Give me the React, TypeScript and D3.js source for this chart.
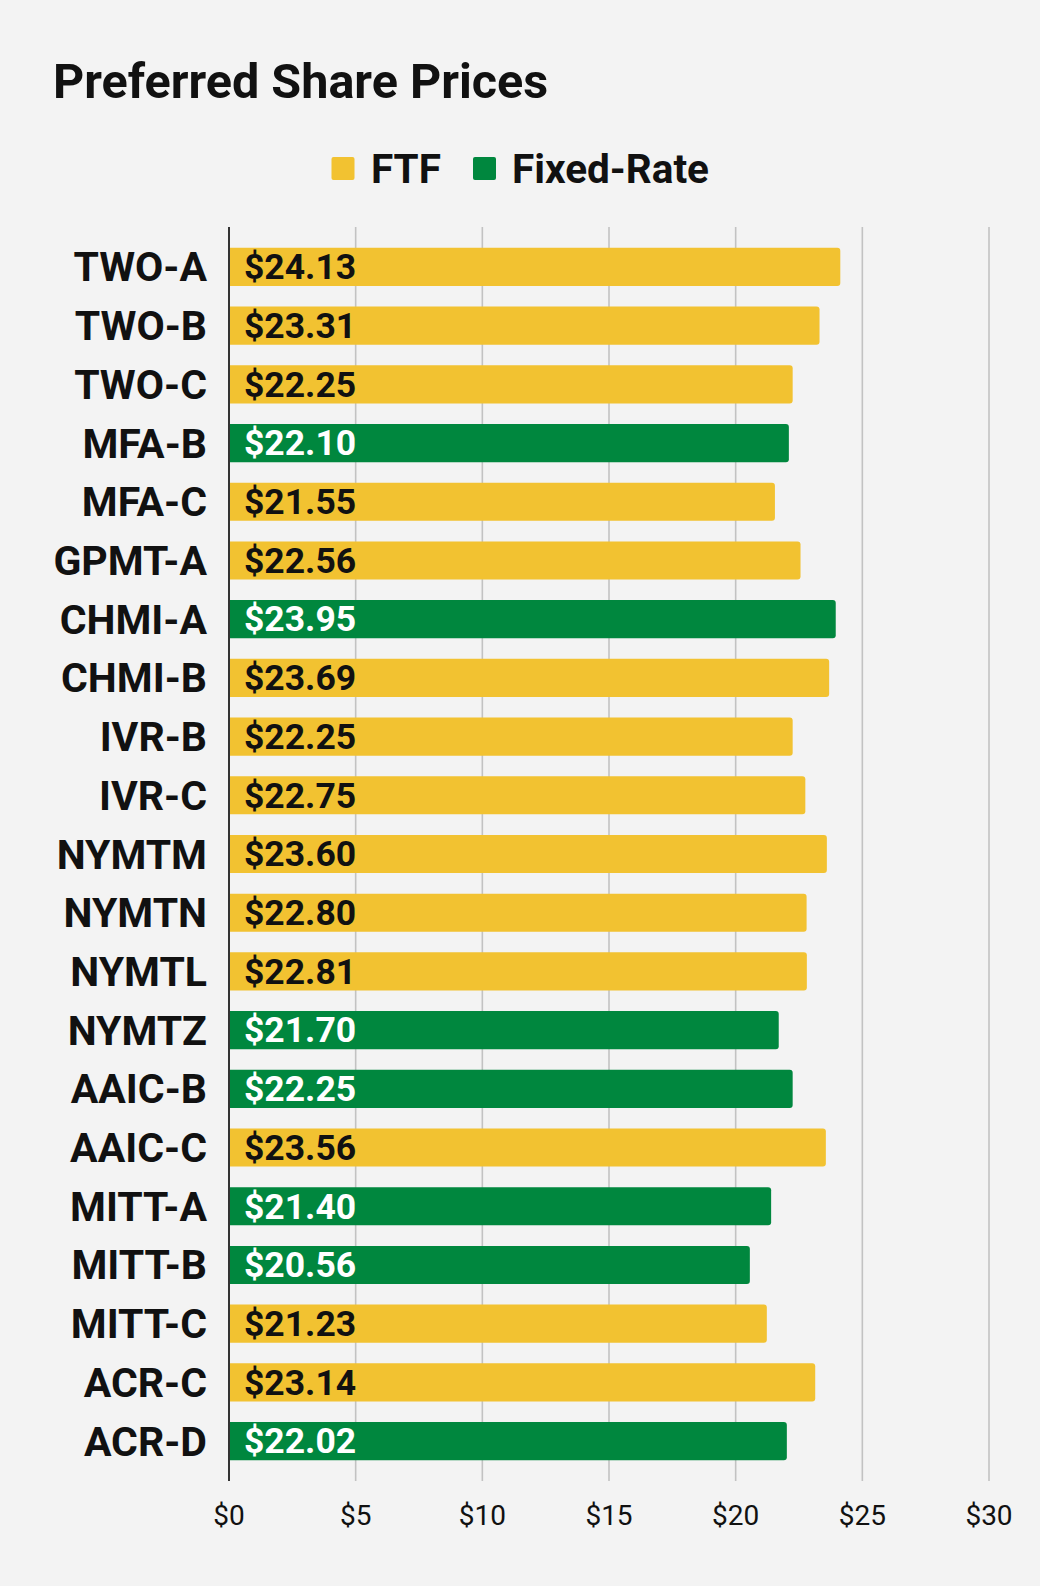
import React from "react";
import * as d3 from "d3";

const categories = ["TWO-A","TWO-B","TWO-C","MFA-B","MFA-C","GPMT-A","CHMI-A","CHMI-B","IVR-B","IVR-C","NYMTM","NYMTN","NYMTL","NYMTZ","AAIC-B","AAIC-C","MITT-A","MITT-B","MITT-C","ACR-C","ACR-D"];
const prices = [24.13,23.31,22.25,22.10,21.55,22.56,23.95,23.69,22.25,22.75,23.60,22.80,22.81,21.70,22.25,23.56,21.40,20.56,21.23,23.14,22.02];
const rateTypes = ["FTF","FTF","FTF","Fixed-Rate","FTF","FTF","Fixed-Rate","FTF","FTF","FTF","FTF","FTF","FTF","Fixed-Rate","Fixed-Rate","FTF","Fixed-Rate","Fixed-Rate","FTF","FTF","Fixed-Rate"];
const seriesNames = ["FTF","Fixed-Rate"];
const xTicks = [0,5,10,15,20,25,30];
const title = "Preferred Share Prices";

const W = 1040, H = 1586;
const FONT = "Roboto, 'Noto Sans', sans-serif";
const colors: Record<string,string> = { "FTF": "#F2C231", "Fixed-Rate": "#00873E" };
const labelColors: Record<string,string> = { "FTF": "#111111", "Fixed-Rate": "#FFFFFF" };

export default function App() {
  const x = d3.scaleLinear().domain([0, 30]).range([229, 989]);
  const y = d3.scaleBand<string>().domain(categories).range([227, 1481]).paddingInner(0.35).paddingOuter(0.355);
  const bw = y.bandwidth();
  const r = 3;
  const barPath = (v: number, top: number) => {
    const x0 = x(0), x1 = x(v), y0 = top, y1 = top + bw;
    return `M${x0},${y0}H${x1 - r}Q${x1},${y0} ${x1},${y0 + r}V${y1 - r}Q${x1},${y1} ${x1 - r},${y1}H${x0}Z`;
  };
  const legendItems = [
    { name: seriesNames[0], sq: 331.5, tx: 371 },
    { name: seriesNames[1], sq: 473, tx: 512 },
  ];
  return (
    <svg width={W} height={H} style={{ position: "absolute", left: 0, top: 0, display: "block" }} fontFamily={FONT}>
      <rect x={0} y={0} width={W} height={H} fill="#F3F3F3" />
      <text x={53} y={98} fontSize={48.5} fontWeight={700} fill="#111">{title}</text>
      {legendItems.map((it) => (
        <g key={it.name}>
          <rect x={it.sq} y={157} width={23} height={23} rx={2} fill={colors[it.name]} />
          <text x={it.tx} y={182.5} fontSize={40.5} fontWeight={700} fill="#111">{it.name}</text>
        </g>
      ))}
      {xTicks.filter((t) => t > 0).map((t) => (
        <line key={t} x1={x(t)} x2={x(t)} y1={227} y2={1481} stroke="#C2C2C2" strokeWidth={1.6} />
      ))}
      {categories.map((c, i) => {
        const top = y(c)!;
        const cy = top + bw / 2;
        return (
          <g key={c}>
            <path d={barPath(prices[i], top)} fill={colors[rateTypes[i]]} />
            <text x={207} y={cy + 14.5} fontSize={41} fontWeight={700} fill="#111" textAnchor="end">{c}</text>
            <text x={244} y={cy + 12.3} fontSize={35.5} fontWeight={700} fill={labelColors[rateTypes[i]]}>{"$" + prices[i].toFixed(2)}</text>
          </g>
        );
      })}
      <line x1={x(0)} x2={x(0)} y1={227} y2={1481} stroke="#333" strokeWidth={2} />
      {xTicks.map((t) => (
        <text key={t} x={x(t)} y={1525} fontSize={28} fill="#111" textAnchor="middle">{"$" + t}</text>
      ))}
    </svg>
  );
}
